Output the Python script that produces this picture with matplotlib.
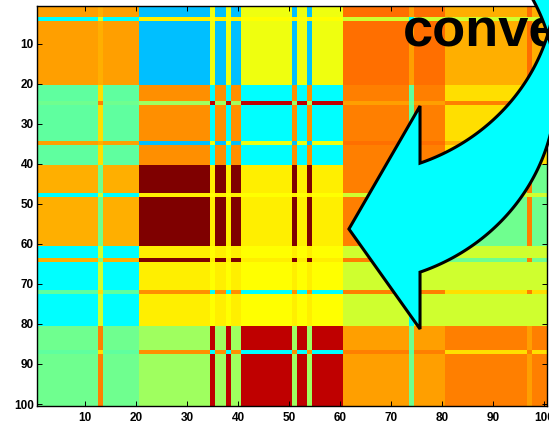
import numpy as np
import matplotlib
matplotlib.use("Agg")
import matplotlib.pyplot as plt
from matplotlib.colors import ListedColormap
from matplotlib.patches import Polygon
from matplotlib import font_manager

# ---- data -------------------------------------------------------------
n_items = 100
cluster_size = 20

# score (colour level 1..64) of each (row cluster, column cluster) block
block_scores = [
    [46, 20, 39, 49, 45],
    [30, 47, 24, 48, 42],
    [45, 64, 41, 48, 31],
    [24, 41, 40, 37, 37],
    [31, 34, 60, 46, 48],
]

# items (1-based) that sit inside another cluster's range: item -> cluster
row_moves = {4: 4, 25: 5, 35: 1, 48: 4, 64: 3, 72: 2, 87: 2}
col_moves = {13: 5, 35: 3, 38: 3, 51: 2, 54: 2, 74: 1, 97: 4}

tick_values = [10, 20, 30, 40, 50, 60, 70, 80, 90, 100]
caption = "convergence"


def cluster_labels(moves):
    lab = np.arange(n_items) // cluster_size
    for item, cluster in moves.items():
        lab[item - 1] = cluster - 1
    return lab


row_lab = cluster_labels(row_moves)
col_lab = cluster_labels(col_moves)
matrix = np.asarray(block_scores)[row_lab][:, col_lab]

# 64-level jet palette
k = np.arange(1, 65)
red = np.clip(np.minimum((k - 24) / 16, (72 - k) / 16), 0, 1)
green = np.clip(np.minimum((k - 8) / 16, (56 - k) / 16), 0, 1)
blue = np.clip(np.minimum((k + 8) / 16, (40 - k) / 16), 0, 1)
jet64 = ListedColormap(np.column_stack([red, green, blue]))

# ---- figure -----------------------------------------------------------
names = {f.name for f in font_manager.fontManager.ttflist}
narrow = "Liberation Sans Narrow" if "Liberation Sans Narrow" in names else "Liberation Sans"
plt.rcParams["font.family"] = [narrow, "DejaVu Sans"]
plt.rcParams["font.weight"] = "bold"

W, H = 549, 423
fig = plt.figure(figsize=(W / 100, H / 100), dpi=100)
ax = fig.add_axes([36.5 / W, 1 - 406 / H, 510 / W, 400 / H])

ax.imshow(matrix, cmap=jet64, vmin=0.5, vmax=64.5, interpolation="nearest",
          aspect="auto", extent=(0.5, n_items + 0.5, n_items + 0.5, 0.5))

ax.set_xticks(tick_values)
ax.set_yticks(tick_values)
ax.tick_params(direction="in", length=3.5, width=0.7, color="black",
               top=True, right=True, labelsize=8.5)
ax.tick_params(axis="x", pad=4)
ax.tick_params(axis="y", pad=2)
for s in ax.spines.values():
    s.set_linewidth(1.0)
    s.set_color("black")

# big caption running off the right edge
ax.text(72.3, 10.5, caption, fontsize=39, fontweight="bold", family=narrow,
        color="black", va="baseline", ha="left", clip_on=False, zorder=5)

# curved arrow: two equal ellipses offset vertically, arrowhead pointing left
cx = 61.76
cy_top, cy_low = -6.0, 21.25
a_ax, b_ax = 40.6, 48.75
barb_x = 75.7
barb_top, barb_low = 25.5, 81.25


def ell(cy, th):
    return np.column_stack([cx + a_ax * np.cos(th), cy + b_ax * np.sin(th)])


th_base = np.arccos((barb_x - cx) / a_ax)
th_meet = np.arcsin((cy_low - cy_top) / 2 / b_ax)
arc_in = ell(cy_top, np.linspace(th_base, th_meet, 120))
arc_out = ell(cy_low, np.linspace(-th_meet, th_base, 120))
front = np.vstack([[[cx, 56.25], [barb_x, barb_top]], arc_in, arc_out,
                   [[barb_x, barb_low]]])
th_end = np.deg2rad(-80)
back = np.vstack([ell(cy_top, np.linspace(th_meet, th_end, 120)),
                  ell(cy_low, np.linspace(th_end, -th_meet, 120))])

for pts in (back, front):
    ax.add_patch(Polygon(pts, closed=True, facecolor="#00FFFF", edgecolor="black",
                         linewidth=2.2, joinstyle="miter", clip_on=False, zorder=6))

fig.savefig("out.png", dpi=100)
